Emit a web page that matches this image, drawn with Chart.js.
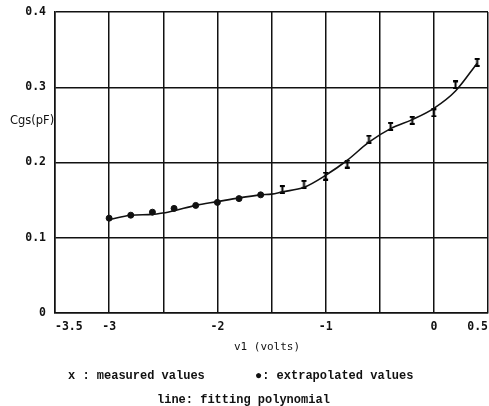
<!DOCTYPE html>
<html lang="en">
<head>
<meta charset="UTF-8">
<title>Cgs vs v1</title>
<style>
    body { margin: 0; background: #fff; overflow: hidden; }
    #wrap { width: 489px; height: 406px; overflow: hidden; }
</style>
</head>
<body>
<div id="wrap">
    <canvas id="cgsChart" width="493" height="406"></canvas>
</div>
<script src="https://cdn.jsdelivr.net/npm/chart.js"></script>
<script>
// fitting polynomial
const fitX = [-3, -2.8, -2.6, -2.5, -2.4, -2.2, -2.0, -1.8, -1.6, -1.5, -1.4, -1.2, -1.0, -0.8, -0.6, -0.4, -0.2, 0, 0.2, 0.4];
const fitY = [0.124, 0.130, 0.131, 0.133, 0.136, 0.143, 0.148, 0.153, 0.157, 0.158, 0.161, 0.167, 0.183, 0.203, 0.227, 0.245, 0.257, 0.272, 0.295, 0.332];

// extrapolated values (dots)
const extrapX = [-3, -2.8, -2.6, -2.4, -2.2, -2.0, -1.8, -1.6];
const extrapY = [0.126, 0.130, 0.134, 0.139, 0.143, 0.147, 0.152, 0.157];

// measured values
const measX = [-1.4, -1.2, -1.0, -0.8, -0.6, -0.4, -0.2, 0, 0.2, 0.4];
const measY = [0.164, 0.171, 0.182, 0.198, 0.231, 0.248, 0.256, 0.266, 0.303, 0.333];

// labelled ticks on the x axis (grid every 0.5)
const xLabelled = [-3.5, -3, -2, -1, 0, 0.5];
const yTicks = [0, 0.1, 0.2, 0.3, 0.4];

function toXY(xs, ys) {
    return xs.map((x, i) => ({ x: x, y: ys[i] }));
}

// small I-beam marker for the measured points
const beam = document.createElement("canvas");
beam.width = 7;
beam.height = 9;
const bc = beam.getContext("2d");
bc.fillStyle = "#000";
bc.fillRect(1, 0, 5, 2);
bc.fillRect(1, 7, 5, 2);
bc.fillRect(2.5, 0, 2, 9);

// texts around the plot
const textPlugin = {
    id: "texts",
    afterDraw(chart) {
        const c = chart.ctx;
        c.save();
        c.fillStyle = "#111";
        c.textBaseline = "middle";
        c.textAlign = "left";
        c.font = "11.5px 'DejaVu Sans'";
        c.fillText("Cgs(pF)", 10, 121);
        c.textAlign = "center";
        c.font = "11px 'DejaVu Sans Mono'";
        c.fillText("v1 (volts)", 267, 347);
        c.textAlign = "left";
        c.font = "bold 12px 'Liberation Mono'";
        c.fillText("x : measured values", 68, 376);
        c.fillText("\u25CF: extrapolated values", 255, 376);
        c.fillText("line: fitting polynomial", 157, 400);
        c.restore();
    }
};

const ctx = document.getElementById("cgsChart").getContext("2d");
new Chart(ctx, {
    type: "scatter",
    data: {
        datasets: [
            {
                label: "fit",
                type: "line",
                data: toXY(fitX, fitY),
                borderColor: "#111",
                borderWidth: 1.6,
                pointRadius: 0,
                cubicInterpolationMode: "monotone",
                fill: false
            },
            {
                label: "extrapolated",
                data: toXY(extrapX, extrapY),
                pointStyle: "circle",
                pointRadius: 3,
                backgroundColor: "#111",
                borderColor: "#111"
            },
            {
                label: "measured",
                data: toXY(measX, measY),
                pointStyle: beam,
                pointRadius: 4
            }
        ]
    },
    options: {
        responsive: false,
        animation: false,
        layout: { padding: { top: 12, right: 0, bottom: 0, left: 0 } },
        plugins: {
            legend: { display: false },
            tooltip: { enabled: false }
        },
        scales: {
            x: {
                type: "linear",
                min: -3.5,
                max: 0.5,
                afterFit(scale) {
                    scale.height = 93;
                    scale.paddingLeft = 0;
                    scale.paddingRight = 0;
                },
                ticks: {
                    stepSize: 0.5,
                    autoSkip: false,
                    maxRotation: 0,
                    align: "inner",
                    padding: 7,
                    color: "#111",
                    font: { family: "'DejaVu Sans Mono'", size: 11.5, weight: "bold" },
                    callback: (v) => xLabelled.some(t => Math.abs(t - v) < 1e-6) ? String(Math.round(v * 10) / 10) : ""
                },
                grid: { color: "#111", lineWidth: 1.5, drawTicks: false },
                border: { color: "#111", width: 1.5 }
            },
            y: {
                min: 0,
                max: 0.4,
                afterFit(scale) {
                    scale.width = 55;
                    scale.paddingTop = 0;
                    scale.paddingBottom = 0;
                },
                afterBuildTicks(scale) {
                    scale.ticks = yTicks.map(v => ({ value: v }));
                },
                ticks: {
                    padding: 9,
                    color: "#111",
                    font: { family: "'DejaVu Sans Mono'", size: 11.5, weight: "bold" },
                    callback: (v) => v === 0 ? "0" : v.toFixed(1)
                },
                grid: { color: "#111", lineWidth: 1.5, drawTicks: false },
                border: { color: "#111", width: 1.5 }
            }
        }
    },
    plugins: [textPlugin]
});
</script>
</body>
</html>
